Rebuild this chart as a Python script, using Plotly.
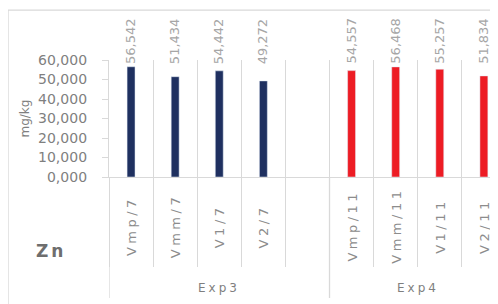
import plotly.graph_objects as go

# ---- data ----
exp3_labels = ["Vmp/7", "Vmm/7", "V1/7", "V2/7", " "]
exp3_values = [56.542, 51.434, 54.442, 49.272, None]
exp4_labels = ["Vmp/11", "Vmm/11", "V1/11", "V2/11"]
exp4_values = [54.557, 56.468, 55.257, 51.834]
groups = ["Exp3", "Exp4"]
y_ticks = [0, 10, 20, 30, 40, 50, 60]
element = "Zn"
y_unit = "mg/kg"

categories = exp3_labels + exp4_labels

NAVY = "#1f3060"
RED = "#ed1c24"
GRID = "#d9d9d9"
FONT = "DejaVu Sans"

fig = go.Figure()
fig.add_trace(go.Bar(x=exp3_labels, y=exp3_values, marker_color=NAVY, width=0.18,
                     showlegend=False, hoverinfo="skip"))
fig.add_trace(go.Bar(x=exp4_labels, y=exp4_values, marker_color=RED, width=0.18,
                     showlegend=False, hoverinfo="skip"))

def spaced(t, sp=3.5):
    return f'<span style="letter-spacing:{sp}px">{t}</span>'

ann = []
# data labels
for labs, vals in ((exp3_labels, exp3_values), (exp4_labels, exp4_values)):
    for c, v in zip(labs, vals):
        if v is None:
            continue
        ann.append(dict(x=c, xref="x", y=0.966, yref="paper", yanchor="bottom", yshift=-2,
                        xanchor="center", textangle=-90, showarrow=False,
                        text=f"{v:.3f}".replace(".", ","),
                        font=dict(family=FONT, size=13, color="#a6a6a6")))
# category labels (centred vertically in the label band, like Excel)
for c in categories:
    if not c.strip():
        continue
    ann.append(dict(x=c, xref="x", y=-0.419, yref="paper", yanchor="middle",
                    xanchor="center", textangle=-90, showarrow=False,
                    text=spaced(c, 3.5),
                    font=dict(family=FONT, size=13, color="#8c8c8c")))
# group labels
g_centers = [(len(exp3_labels) - 1) / 2, len(exp3_labels) + (len(exp4_labels) - 1) / 2]
for g, cx in zip(groups, g_centers):
    ann.append(dict(x=cx, xref="x", y=-0.949, yref="paper", showarrow=False,
                    text=spaced(g, 3), font=dict(family=FONT, size=12, color="#7f7f7f"),
                    xanchor="center", yanchor="middle"))
ann.append(dict(x=-0.216, xref="paper", y=0.5, yref="paper", textangle=-90, showarrow=False,
                xanchor="center", yanchor="middle",
                text=y_unit, font=dict(family=FONT, size=12, color="#7f7f7f")))
ann.append(dict(x=-0.149, xref="paper", y=-0.632, yref="paper", showarrow=False,
                xanchor="center", yanchor="middle",
                text=spaced(f"<b>{element}</b>", 3), font=dict(family=FONT, size=17, color="#6e6e6e")))

shapes = []
# group dividers below the axis
for bx in (-0.5, len(exp3_labels) - 0.5):
    shapes.append(dict(type="line", xref="x", x0=bx, x1=bx, yref="paper", y0=0, y1=-1.034,
                       line=dict(color=GRID, width=1.3)))
# chart border (cropped on right and bottom)
shapes.append(dict(type="rect", xref="paper", yref="paper", x0=-0.2596, x1=1.2, y0=-1.3, y1=1.427,
                   line=dict(color=GRID, width=1.3), fillcolor="rgba(0,0,0,0)", layer="below"))

fig.update_layout(
    width=490, height=296,
    margin=dict(l=101, r=0, t=52, b=127),
    paper_bgcolor="white", plot_bgcolor="white",
    barmode="overlay",
    separators=",.",
    annotations=ann, shapes=shapes,
    xaxis=dict(type="category", categoryorder="array", categoryarray=categories,
               range=[-0.5, 8.32], tickson="boundaries",
               showticklabels=False,
               showgrid=True, gridcolor=GRID, gridwidth=1.3,
               ticks="outside", ticklen=89, tickcolor=GRID, tickwidth=1.3,
               showline=True, linecolor=GRID, linewidth=1.3, automargin=False),
    yaxis=dict(range=[0, 60], tickvals=y_ticks, tickformat=".3f",
               showgrid=False, zeroline=False,
               showline=True, linecolor=GRID, linewidth=1.3,
               ticks="outside", ticklen=6, tickcolor=GRID, tickwidth=1.3,
               ticklabelstandoff=12,
               tickfont=dict(family=FONT, size=14, color="#7f7f7f"), automargin=False),
)

fig.write_html("out.html")
